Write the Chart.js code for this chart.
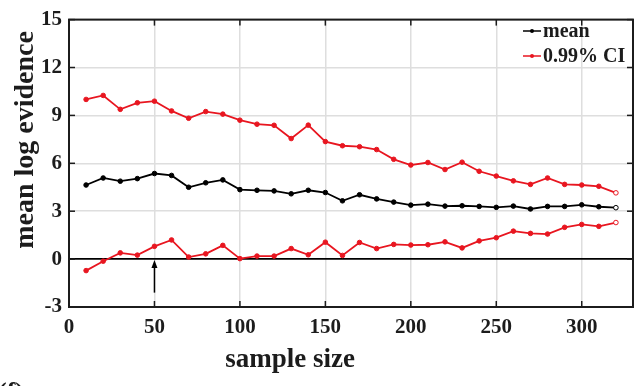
<!DOCTYPE html>
<html>
<head>
<meta charset="utf-8">
<script src="https://cdn.jsdelivr.net/npm/chart.js@4.4.0/dist/chart.umd.min.js"></script>
<style>
    html, body { margin: 0; padding: 0; background: #fff; }
    #wrap { width: 638px; height: 386px; }
</style>
</head>
<body>
<div id="wrap"><canvas id="evidenceChart" width="638" height="386"></canvas></div>
<script>
var sampleSizes = [10, 20, 30, 40, 50, 60, 70, 80, 90, 100, 110, 120, 130, 140, 150, 160,
                   170, 180, 190, 200, 210, 220, 230, 240, 250, 260, 270, 280, 290, 300, 310, 320];
var meanVals = [4.64, 5.08, 4.88, 5.04, 5.36, 5.24, 4.50, 4.78, 4.96, 4.35, 4.31, 4.27, 4.09, 4.31, 4.17, 3.65,
                4.03, 3.77, 3.57, 3.38, 3.44, 3.32, 3.34, 3.30, 3.24, 3.32, 3.14, 3.30, 3.30, 3.40, 3.28, 3.22];
var ciUpper = [10.0, 10.25, 9.38, 9.79, 9.89, 9.28, 8.82, 9.24, 9.08, 8.70, 8.45, 8.38, 7.55, 8.39, 7.36, 7.10,
               7.04, 6.86, 6.25, 5.89, 6.05, 5.61, 6.07, 5.50, 5.20, 4.90, 4.68, 5.08, 4.68, 4.64, 4.56, 4.15];
var ciLower = [-0.72, -0.13, 0.39, 0.25, 0.80, 1.20, 0.13, 0.33, 0.86, 0.03, 0.19, 0.19, 0.66, 0.27, 1.06, 0.23,
               1.04, 0.66, 0.92, 0.88, 0.90, 1.08, 0.70, 1.14, 1.34, 1.75, 1.61, 1.57, 1.99, 2.17, 2.05, 2.29];
var xTicks = [0, 50, 100, 150, 200, 250, 300];
var yTicks = [-3, 0, 3, 6, 9, 12, 15];
var arrowX = 50;
var arrowFrom = -2.1;
var arrowTo = -0.05;

var SERIF = "'Liberation Serif', 'Times New Roman', serif";
var RED = 'rgb(232, 22, 32)';
var INK = '#1c1c1c';

function toPoints(vals) {
    return sampleSizes.map(function (s, i) { return { x: s, y: vals[i] }; });
}

// last marker of each line is drawn hollow, like the original
function fills(color) {
    return sampleSizes.map(function (s, i) { return i === sampleSizes.length - 1 ? '#fff' : color; });
}

function line(ctx, x1, y1, x2, y2) {
    ctx.beginPath();
    ctx.moveTo(x1, y1);
    ctx.lineTo(x2, y2);
    ctx.stroke();
}

var decorations = {
    id: 'decorations',
    afterDraw: function (chart) {
        var ctx = chart.ctx;
        var xs = chart.scales.x, ys = chart.scales.y, a = chart.chartArea;
        ctx.save();

        // inward tick marks on all four sides
        ctx.strokeStyle = INK;
        ctx.lineWidth = 1.5;
        xTicks.forEach(function (v) {
            var px = xs.getPixelForValue(v);
            line(ctx, px, a.bottom, px, a.bottom - 6);
            line(ctx, px, a.top, px, a.top + 6);
        });
        yTicks.forEach(function (v) {
            var py = ys.getPixelForValue(v);
            line(ctx, a.left, py, a.left + 6, py);
            line(ctx, a.right, py, a.right - 6, py);
        });

        // box
        ctx.lineWidth = 2;
        ctx.strokeRect(a.left, a.top, a.right - a.left, a.bottom - a.top);

        // arrow at sample size 50
        var ax = xs.getPixelForValue(arrowX);
        var ay1 = ys.getPixelForValue(arrowFrom);
        var ay2 = ys.getPixelForValue(arrowTo);
        ctx.lineWidth = 1.5;
        ctx.strokeStyle = '#000';
        line(ctx, ax, ay1, ax, ay2 + 4);
        ctx.fillStyle = '#000';
        ctx.beginPath();
        ctx.moveTo(ax, ay2);
        ctx.lineTo(ax - 3, ay2 + 8);
        ctx.lineTo(ax + 3, ay2 + 8);
        ctx.closePath();
        ctx.fill();

        // legend inside top right
        var legend = [
            { label: 'mean', color: '#000', y: 31 },
            { label: '0.99% CI', color: RED, y: 56 }
        ];
        ctx.font = 'bold 20px ' + SERIF;
        ctx.textBaseline = 'middle';
        ctx.textAlign = 'left';
        legend.forEach(function (item) {
            ctx.strokeStyle = item.color;
            ctx.fillStyle = item.color;
            ctx.lineWidth = 1.5;
            line(ctx, 523, item.y, 541, item.y);
            ctx.beginPath();
            ctx.arc(532, item.y, 2, 0, Math.PI * 2);
            ctx.fill();
            ctx.fillStyle = INK;
            ctx.fillText(item.label, 543, item.y + 1);
        });

        // axis titles
        ctx.fillStyle = INK;
        ctx.font = 'bold 27px ' + SERIF;
        ctx.textAlign = 'center';
        ctx.textBaseline = 'alphabetic';
        ctx.fillText('sample size', 290, 367);

        ctx.save();
        ctx.translate(33, 140);
        ctx.rotate(-Math.PI / 2);
        ctx.font = 'bold 28px ' + SERIF;
        ctx.fillText('mean log evidence', 0, 0);
        ctx.restore();

        // panel letter, cut by the bottom edge
        ctx.textAlign = 'left';
        ctx.textBaseline = 'top';
        ctx.font = 'bold 26px ' + SERIF;
        ctx.fillText('(f)', -2, 380);

        ctx.restore();
    }
};

var ctx = document.getElementById('evidenceChart').getContext('2d');

var chart = new Chart(ctx, {
    type: 'line',
    data: {
        datasets: [
            {
                label: 'mean',
                data: toPoints(meanVals),
                borderColor: '#000',
                backgroundColor: fills('#000'),
                pointBorderColor: '#000',
                borderWidth: 1.8,
                pointRadius: 2.3,
                pointBorderWidth: 1,
                tension: 0
            },
            {
                label: '0.99% CI',
                data: toPoints(ciUpper),
                borderColor: RED,
                backgroundColor: fills(RED),
                pointBorderColor: RED,
                borderWidth: 1.8,
                pointRadius: 2.3,
                pointBorderWidth: 1,
                tension: 0
            },
            {
                label: '0.99% CI lower',
                data: toPoints(ciLower),
                borderColor: RED,
                backgroundColor: fills(RED),
                pointBorderColor: RED,
                borderWidth: 1.8,
                pointRadius: 2.3,
                pointBorderWidth: 1,
                tension: 0
            }
        ]
    },
    options: {
        responsive: false,
        animation: false,
        layout: {
            padding: { top: 10, right: 1, left: 0, bottom: 0 }
        },
        plugins: {
            legend: { display: false },
            tooltip: { enabled: false }
        },
        scales: {
            x: {
                type: 'linear',
                min: 0,
                max: 330,
                afterBuildTicks: function (scale) {
                    scale.ticks = xTicks.map(function (v) { return { value: v }; });
                },
                afterFit: function (scale) { scale.height = 79; },
                border: { display: false },
                grid: {
                    color: '#dedede',
                    lineWidth: 1.5,
                    drawTicks: false
                },
                ticks: {
                    padding: 8,
                    color: INK,
                    font: { family: SERIF, size: 21, weight: 'bold' },
                    maxRotation: 0
                }
            },
            y: {
                min: -3,
                max: 15,
                afterBuildTicks: function (scale) {
                    scale.ticks = yTicks.map(function (v) { return { value: v }; });
                },
                afterFit: function (scale) { scale.width = 69; },
                border: { display: false },
                grid: {
                    color: function (c) { return c.tick && c.tick.value === 0 ? '#000' : '#dedede'; },
                    lineWidth: function (c) { return c.tick && c.tick.value === 0 ? 1.8 : 1.5; },
                    drawTicks: false
                },
                ticks: {
                    padding: 7,
                    color: INK,
                    font: { family: SERIF, size: 21, weight: 'bold' }
                }
            }
        }
    },
    plugins: [decorations]
});
</script>
</body>
</html>
